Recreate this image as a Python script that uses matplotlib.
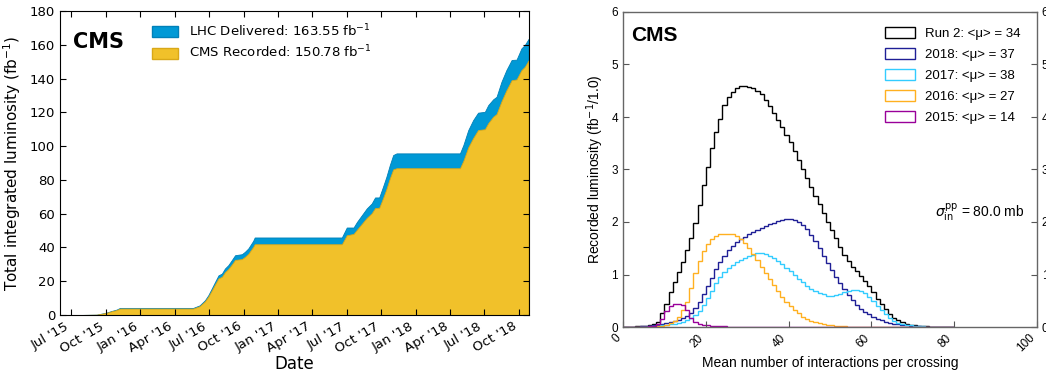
import matplotlib
matplotlib.use("Agg")
import matplotlib.pyplot as plt
import matplotlib.dates as mdates
from matplotlib.patches import Patch
import numpy as np
import pandas as pd

# ---- left panel: cumulative integrated luminosity (fb^-1) ----
dates = ["2015-06-03", "2015-08-01", "2015-09-07", "2015-10-03", "2015-10-17",
         "2015-10-30", "2015-11-08", "2016-05-20", "2016-06-06", "2016-06-20",
         "2016-06-29", "2016-07-08", "2016-07-17", "2016-07-26", "2016-08-04",
         "2016-08-12", "2016-08-21", "2016-08-30", "2016-09-08", "2016-09-26",
         "2016-10-04", "2016-10-13", "2016-10-26", "2016-10-30", "2017-06-18",
         "2017-07-01", "2017-07-19", "2017-07-28", "2017-08-10", "2017-08-23",
         "2017-09-05", "2017-09-14", "2017-09-25", "2017-10-05", "2017-10-14",
         "2017-10-23", "2017-11-01", "2017-11-10", "2018-04-27", "2018-05-06",
         "2018-05-19", "2018-06-01", "2018-06-14", "2018-07-02", "2018-07-11",
         "2018-07-24", "2018-08-02", "2018-08-15", "2018-08-28", "2018-09-11",
         "2018-09-24", "2018-10-07", "2018-10-16", "2018-10-26"]
delivered = [0, 0.05, 0.2, 1.4, 2.4, 3.2, 4.2, 4.2, 5.7, 8.7,
             11.7, 15.6, 19.6, 23.5, 24.5, 27.5, 29.5, 32.4, 35.4, 36.0,
             37.4, 39.4, 43.9, 45.9, 45.9, 51.8, 51.8, 55.1, 59.1, 63.1,
             66.0, 69.6, 69.6, 75.9, 81.8, 88.7, 94.7, 95.7, 95.7, 100.6,
             109.5, 115.4, 119.8, 120.3, 124.3, 127.7, 129.2, 138.1, 145.0, 151.0,
             151.2, 157.9, 159.9, 163.55]
recorded = [0, 0.04, 0.18, 1.25, 2.2, 2.9, 3.8, 3.8, 5.2, 8.0,
            10.8, 14.4, 18.1, 21.7, 22.6, 25.3, 27.2, 29.8, 32.6, 33.1,
            34.4, 36.2, 40.3, 41.9, 41.9, 47.2, 48.0, 50.5, 54.0, 57.5,
            60.2, 63.3, 63.5, 69.1, 74.5, 80.8, 86.2, 86.9, 86.9, 91.3,
            99.3, 104.8, 109.5, 110.0, 113.6, 117.4, 119.0, 126.5, 133.0, 139.0,
            139.5, 145.0, 147.0, 150.78]

# ---- right panel: pileup distributions, bins of width 1 from 0 to 80 ----
run2 = [0, 0.002, 0.005, 0.01, 0.015, 0.02, 0.03, 0.05, 0.1, 0.26,
        0.44, 0.67, 0.86, 1.05, 1.24, 1.47, 1.69, 1.98, 2.32, 2.7,
        3.05, 3.4, 3.72, 3.97, 4.23, 4.38, 4.48, 4.56, 4.6, 4.6,
        4.58, 4.55, 4.5, 4.43, 4.32, 4.2, 4.07, 3.94, 3.8, 3.66,
        3.53, 3.36, 3.18, 3.0, 2.83, 2.66, 2.5, 2.35, 2.17, 2.0,
        1.85, 1.7, 1.52, 1.38, 1.26, 1.15, 1.06, 0.97, 0.88, 0.78,
        0.66, 0.54, 0.43, 0.34, 0.25, 0.18, 0.13, 0.09, 0.06, 0.045,
        0.03, 0.02, 0.015, 0.01, 0.007, 0.005, 0.003, 0.002, 0.001, 0]
y2018 = [0, 0, 0, 0.005, 0.01, 0.015, 0.02, 0.03, 0.04, 0.05,
         0.07, 0.09, 0.11, 0.14, 0.17, 0.21, 0.27, 0.36, 0.48, 0.62,
         0.78, 0.94, 1.1, 1.24, 1.36, 1.46, 1.54, 1.61, 1.67, 1.72,
         1.77, 1.81, 1.85, 1.89, 1.93, 1.96, 1.99, 2.02, 2.04, 2.05,
         2.05, 2.04, 2.0, 1.94, 1.86, 1.76, 1.64, 1.5, 1.36, 1.22,
         1.08, 0.96, 0.84, 0.72, 0.61, 0.51, 0.42, 0.35, 0.29, 0.24,
         0.2, 0.16, 0.13, 0.1, 0.08, 0.06, 0.05, 0.04, 0.03, 0.02,
         0.015, 0.01, 0.007, 0.005, 0, 0, 0, 0, 0, 0]
y2017 = [0, 0, 0, 0, 0, 0.005, 0.01, 0.015, 0.02, 0.03,
         0.04, 0.05, 0.06, 0.08, 0.1, 0.13, 0.17, 0.23, 0.31, 0.42,
         0.55, 0.69, 0.83, 0.95, 1.05, 1.12, 1.18, 1.23, 1.27, 1.31,
         1.35, 1.38, 1.41, 1.41, 1.39, 1.36, 1.31, 1.26, 1.2, 1.13,
         1.06, 0.99, 0.92, 0.85, 0.79, 0.73, 0.68, 0.65, 0.62, 0.6,
         0.6, 0.61, 0.63, 0.66, 0.68, 0.7, 0.7, 0.68, 0.64, 0.57,
         0.49, 0.4, 0.32, 0.24, 0.17, 0.12, 0.08, 0.06, 0.04, 0.03,
         0.02, 0.015, 0.01, 0.007, 0.005, 0, 0, 0, 0, 0]
y2016 = [0, 0, 0, 0, 0, 0, 0, 0, 0.01, 0.02,
         0.04, 0.07, 0.12, 0.2, 0.33, 0.48, 0.75, 1.02, 1.25, 1.45,
         1.58, 1.68, 1.74, 1.77, 1.78, 1.78, 1.77, 1.74, 1.68, 1.6,
         1.5, 1.4, 1.28, 1.15, 1.03, 0.92, 0.8, 0.68, 0.58, 0.48,
         0.4, 0.32, 0.26, 0.2, 0.16, 0.12, 0.09, 0.07, 0.05, 0.04,
         0.03, 0.02, 0.015, 0.01, 0.007, 0.005, 0, 0, 0, 0,
         0, 0, 0, 0, 0, 0, 0, 0, 0, 0,
         0, 0, 0, 0, 0, 0, 0, 0, 0, 0]
y2015 = [0, 0, 0, 0, 0.003, 0.005, 0.01, 0.02, 0.05, 0.15,
         0.3, 0.4, 0.43, 0.43, 0.41, 0.32, 0.18, 0.09, 0.05, 0.04,
         0.03, 0.02, 0.015, 0.01, 0.01, 0.008, 0.006, 0.005, 0.004, 0.003,
         0.002, 0, 0, 0, 0, 0, 0, 0, 0, 0,
         0, 0, 0, 0, 0, 0, 0, 0, 0, 0,
         0, 0, 0, 0, 0, 0, 0, 0, 0, 0,
         0, 0, 0, 0, 0, 0, 0, 0, 0, 0,
         0, 0, 0, 0, 0, 0, 0, 0, 0, 0]
hist_labels = ["Run 2: <\u03bc> = 34", "2018: <\u03bc> = 37", "2017: <\u03bc> = 38",
               "2016: <\u03bc> = 27", "2015: <\u03bc> = 14"]
hist_colors = ["black", "#1f1f96", "#33ccff", "#ffb020", "#990099"]

fig = plt.figure(figsize=(10.46, 3.74), dpi=100)

# left panel
ax1 = fig.add_axes([60/1046, (374-315)/374, (529-60)/1046, (315-11)/374])
d = pd.to_datetime(dates)
blue = "#0099d6"
yellow = "#f1c12a"
ax1.fill_between(d, delivered, color=blue, edgecolor="#0080b8", lw=0.6)
ax1.fill_between(d, recorded, color=yellow, edgecolor="#d9a818", lw=0.6)
ax1.set_xlim(pd.Timestamp("2015-06-02"), pd.Timestamp("2018-10-27"))
ax1.set_ylim(0, 180)
ax1.set_yticks(range(0, 181, 20))
ax1.xaxis.set_major_locator(mdates.MonthLocator(bymonth=[1, 4, 7, 10]))
ax1.xaxis.set_major_formatter(mdates.DateFormatter("%b '%y"))
ax1.tick_params(direction="in", top=True, right=True, labelsize=9.5, length=4)
for lab in ax1.get_xticklabels():
    lab.set_rotation(30)
    lab.set_ha("right")
ax1.set_xlabel("Date", fontsize=12, labelpad=0)
ax1.set_ylabel("Total integrated luminosity (fb$^{-1}$)", fontsize=11, labelpad=5)
ax1.text(0.027, 0.93, "CMS", transform=ax1.transAxes, fontsize=15,
         fontweight="bold", va="top")
h1 = [Patch(facecolor=blue, edgecolor="#0080b8"),
      Patch(facecolor=yellow, edgecolor="#d9a818")]
ax1.legend(h1, ["LHC Delivered: 163.55 fb$^{-1}$", "CMS Recorded: 150.78 fb$^{-1}$"],
           loc="upper left", bbox_to_anchor=(0.17, 1.0), frameon=False,
           fontsize=9.5, handlelength=2.0, handleheight=0.9, labelspacing=0.35)

# right panel
ax2 = fig.add_axes([623/1046, (374-327)/374, (1037-623)/1046, (327-12)/374])
edges = np.arange(0, 81)
series = [run2, y2018, y2017, y2016, y2015]
for vals, c in zip(series, hist_colors):
    ax2.stairs(vals, edges, color=c, lw=1.0)
ax2.set_xlim(0, 100)
ax2.set_ylim(0, 6)
font2 = ["Liberation Sans", "DejaVu Sans"]
ax2.tick_params(direction="in", right=True, labelright=True, labelsize=8.5, length=4,
                color="#555555")
ax2.set_xticks(range(0, 101, 20))
for lab in ax2.get_xticklabels() + ax2.get_yticklabels():
    lab.set_family(font2)
for lab in ax2.get_xticklabels():
    lab.set_rotation(45)
    lab.set_ha("right")
for s in ax2.spines.values():
    s.set_color("#666666")
    s.set_linewidth(1.0)
ax2.set_xlabel("Mean number of interactions per crossing", fontsize=10, family=font2,
               labelpad=1)
ax2.set_ylabel("Recorded luminosity (fb$^{-1}$/1.0)", fontsize=10, family=font2,
               labelpad=4)
ax2.text(0.02, 0.955, "CMS", transform=ax2.transAxes, fontsize=15, fontweight="bold",
         va="top", family=font2)
ax2.text(97, 2.19, "$\\sigma^{\\mathrm{pp}}_{\\mathrm{in}}$ = 80.0 mb", ha="right",
         va="center", fontsize=10, family=font2)
h2 = [Patch(facecolor="none", edgecolor=c, lw=1.0) for c in hist_colors]
ax2.legend(h2, hist_labels, loc="upper right", bbox_to_anchor=(0.99, 0.99),
           frameon=False, handlelength=2.3, handleheight=0.85,
           labelspacing=0.62, prop={"family": font2, "size": 9.5})

fig.savefig("out.png", dpi=100)
